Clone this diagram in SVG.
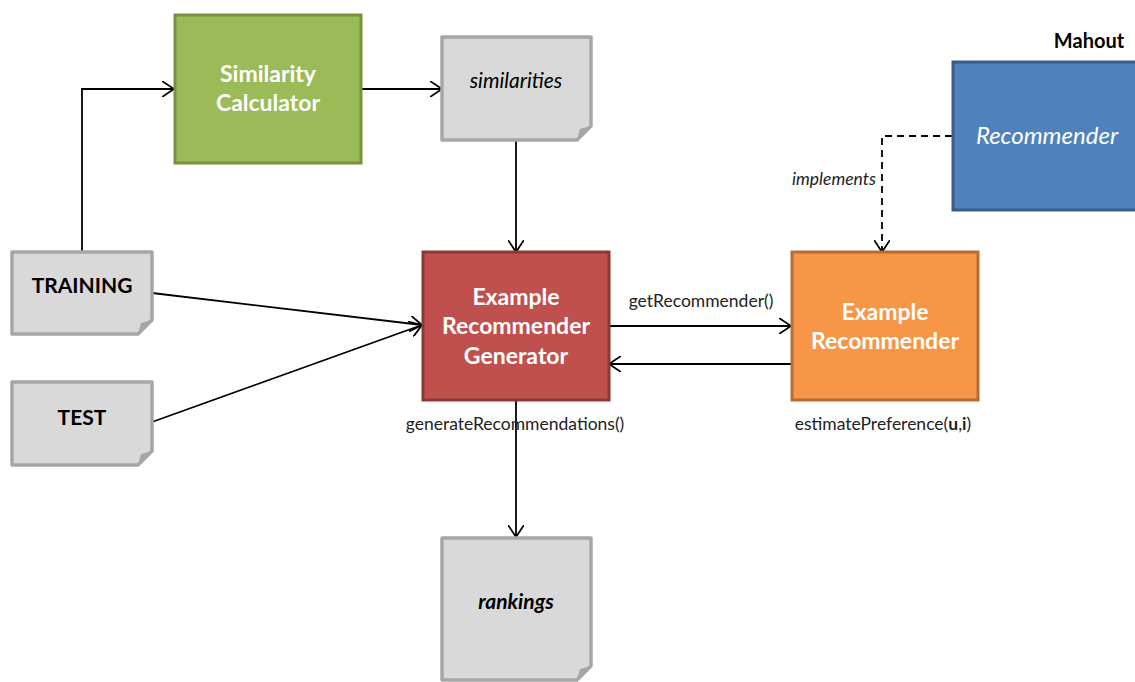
<svg xmlns="http://www.w3.org/2000/svg" width="1135" height="682" viewBox="0 0 1135 682">
<defs>
<marker id="arr" viewBox="0 0 12 16" refX="12" refY="8" markerWidth="12" markerHeight="16" markerUnits="userSpaceOnUse" orient="auto">
<path d="M0,0 L12,8 L0,16" fill="none" stroke="#000" stroke-width="1.8"/>
</marker>
<style>
.t{font-family:Lato,"Open Sans","Liberation Sans",sans-serif;text-anchor:middle}
.w{fill:#fff;font-weight:bold;font-size:23px}
.k{fill:#000;font-size:21px}
.lbl{fill:#222;font-size:17.5px}
.doc{fill:#D9D9D9;stroke:#A6A6A6;stroke-width:3.5;stroke-linejoin:round}
.fold{fill:#A6A6A6}
.c{fill:none;stroke:#000;stroke-width:1.8}
</style>
</defs>
<rect width="1135" height="682" fill="#fff"/>

<g id="connectors">
<path class="c" d="M82,252 V89 H174" marker-end="url(#arr)"/>
<path class="c" d="M362,89 H442" marker-end="url(#arr)"/>
<path class="c" d="M516,141 V252" marker-end="url(#arr)"/>
<path class="c" d="M152,293 L422,325" marker-end="url(#arr)"/>
<path class="c" d="M152,422 L422,325" marker-end="url(#arr)"/>
<path class="c" d="M609,326 H791" marker-end="url(#arr)"/>
<path class="c" d="M791,364 H609" marker-end="url(#arr)"/>
<path class="c" d="M516,400 V537" marker-end="url(#arr)"/>
<path class="c" d="M952,136 H882 V252" stroke-dasharray="7,5" marker-end="url(#arr)"/>
<text class="t lbl" x="701" y="307">getRecommender()</text>
<text class="t lbl" x="515" y="430">generateRecommendations()</text>
<text class="t lbl" x="883" y="430">estimatePreference(<tspan font-weight="bold">u</tspan>,<tspan font-weight="bold">i</tspan>)</text>
<text class="t lbl" x="834" y="185" font-style="italic" font-size="18">implements</text>
</g>

<g id="training">
<path class="doc" d="M12,252 H152 V320 L138,334 H12 Z"/>
<path class="fold" d="M152,320 L138,334 L141,323 Z"/>
<text class="t k" x="82" y="293" font-weight="bold">TRAINING</text>
</g>

<g id="test">
<path class="doc" d="M12,382 H152 V451 L138,465 H12 Z"/>
<path class="fold" d="M152,451 L138,465 L141,454 Z"/>
<text class="t k" x="82" y="425" font-weight="bold">TEST</text>
</g>

<g id="similarity-calculator">
<rect x="175" y="15" width="186" height="148" fill="#9BBB59" stroke="#77933C" stroke-width="3"/>
<text class="t w" x="268" y="82">Similarity</text>
<text class="t w" x="268" y="111">Calculator</text>
</g>

<g id="similarities">
<path class="doc" d="M442,37 H591 V126 L577,140 H442 Z"/>
<path class="fold" d="M591,126 L577,140 L580,129 Z"/>
<text class="t k" x="516" y="88" font-style="italic" font-size="25.5">similarities</text>
</g>

<g id="generator">
<rect x="423" y="252" width="186" height="148" fill="#C0504D" stroke="#8C3836" stroke-width="3"/>
<text class="t w" x="516" y="305">Example</text>
<text class="t w" x="516" y="334">Recommender</text>
<text class="t w" x="516" y="364">Generator</text>
</g>

<g id="example-recommender">
<rect x="792" y="252" width="186" height="148" fill="#F79646" stroke="#B66D31" stroke-width="3"/>
<text class="t w" x="885" y="320">Example</text>
<text class="t w" x="885" y="349">Recommender</text>
</g>

<g id="recommender">
<rect x="953" y="62" width="190" height="148" fill="#4F81BD" stroke="#385D8A" stroke-width="3"/>
<text class="t" x="1047" y="144" fill="#fff" font-size="24" font-style="italic">Recommender</text>
<text class="t" x="1089" y="48" fill="#000" font-size="20" font-weight="bold">Mahout</text>
</g>

<g id="rankings">
<path class="doc" d="M442,538 H591 V666 L577,680 H442 Z"/>
<path class="fold" d="M591,666 L577,680 L580,669 Z"/>
<text class="t k" x="516" y="609" font-style="italic" font-weight="bold" font-size="26">rankings</text>
</g>
</svg>
